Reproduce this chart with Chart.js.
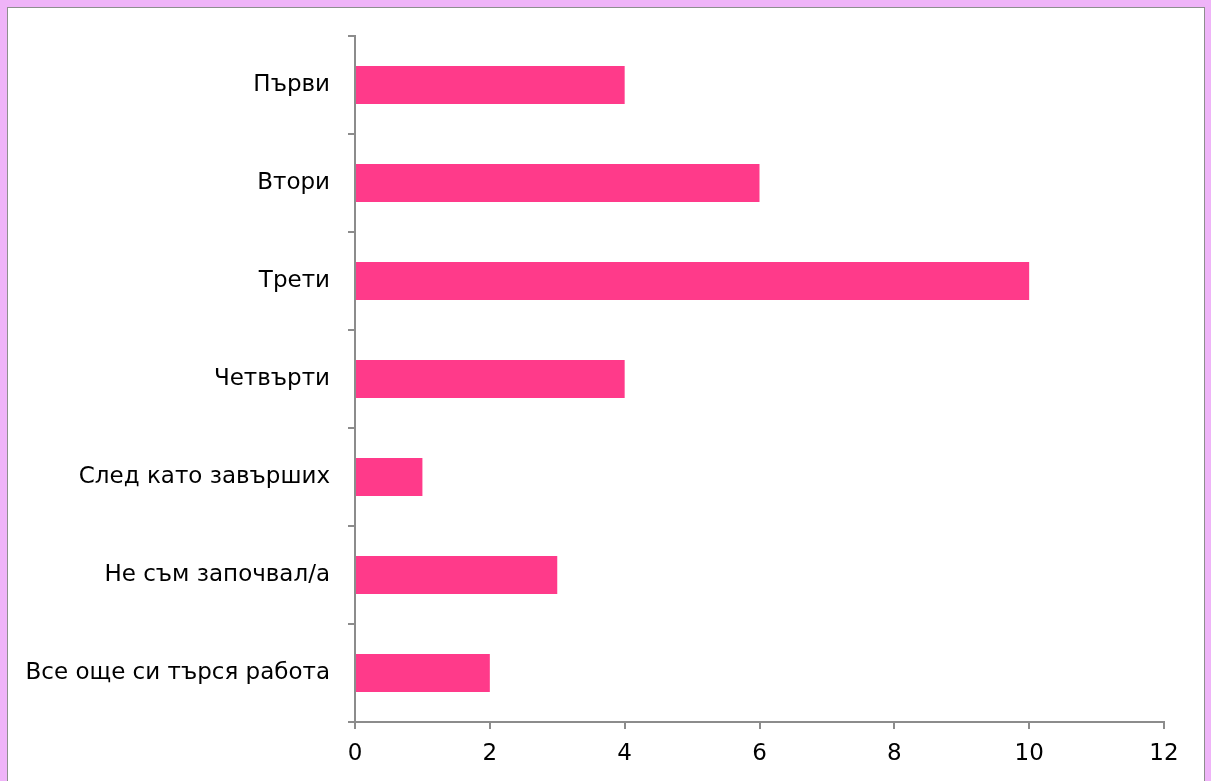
<!DOCTYPE html>
<html>
<head>
<meta charset="utf-8">
<script src="https://cdn.jsdelivr.net/npm/chart.js@4"></script>
<style>
  html, body { margin: 0; padding: 0; background: #EFB4F8; width: 1211px; height: 781px; overflow: hidden; }
  #panel { position: absolute; left: 7px; top: 7px; width: 1196px; height: 790px; background: #fff; border: 1px solid #8E8E8E; }
  canvas { position: absolute; left: 0; top: 0; }
</style>
</head>
<body>
<div id="panel"><canvas id="c" width="1196" height="773"></canvas></div>
<script>
const categories = ["Първи", "Втори", "Трети", "Четвърти", "След като завърших", "Не съм започвал/а", "Все още си търся работа"];
const values = [4, 6, 10, 4, 1, 3, 2];
const xTicks = [0, 2, 4, 6, 8, 10, 12];

const axisColor = '#8C8C8C';
const font = { family: 'DejaVu Sans', size: 23 };

new Chart(document.getElementById('c'), {
  type: 'bar',
  data: {
    labels: categories,
    datasets: [{
      data: values,
      backgroundColor: '#FF3A8A',
      borderWidth: 0,
      barPercentage: 0.39,
      categoryPercentage: 1.0
    }]
  },
  options: {
    indexAxis: 'y',
    responsive: false,
    animation: false,
    devicePixelRatio: 1,
    layout: { padding: { top: 28, right: 40, left: 0, bottom: 0 } },
    plugins: { legend: { display: false }, tooltip: { enabled: false } },
    scales: {
      x: {
        min: xTicks[0],
        max: xTicks[xTicks.length - 1],
        afterBuildTicks: (s) => { s.ticks = xTicks.map(v => ({ value: v })); },
        afterFit: (s) => { s.height = 59; },
        grid: { drawOnChartArea: false, drawTicks: true, tickLength: 7, color: axisColor, lineWidth: 2 },
        border: { display: true, color: axisColor, width: 2 },
        ticks: { color: '#000', font: font, padding: 11, maxRotation: 0 }
      },
      y: {
        offset: true,
        afterFit: (s) => { s.width = 347; s.paddingTop = 0; s.paddingBottom = 0; },
        grid: { offset: true, drawOnChartArea: false, drawTicks: true, tickLength: 7, color: axisColor, lineWidth: 2 },
        border: { display: true, color: axisColor, width: 2 },
        ticks: { color: '#000', font: font, padding: 18 }
      }
    }
  }
});
</script>
</body>
</html>
